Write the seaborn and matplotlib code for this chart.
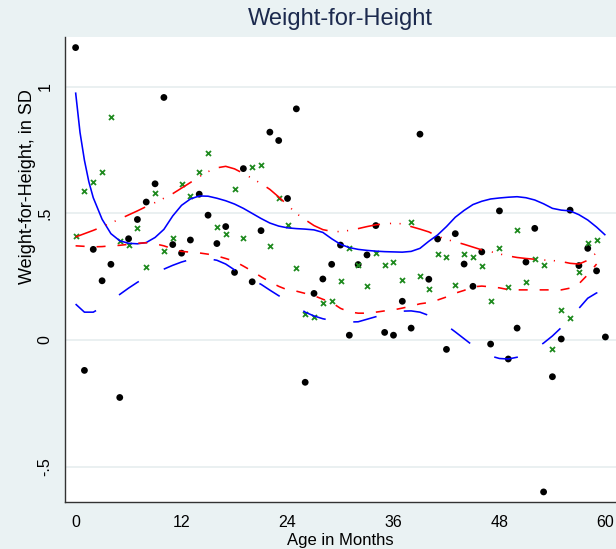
import matplotlib
matplotlib.use("Agg")
import matplotlib.pyplot as plt
from matplotlib import font_manager
import pandas as pd
import seaborn as sns

# ---- observed means by age (months) ----
months_a = list(range(61))
whz_a = [1.155, -0.120, 0.358, 0.234, 0.299, -0.227, 0.400, 0.476, 0.545, 0.617,
         0.958, 0.377, 0.343, 0.395, 0.576, 0.493, 0.381, 0.448, 0.267, 0.677,
         0.230, 0.432, 0.821, 0.788, 0.559, 0.913, -0.167, 0.184, 0.241, 0.299,
         0.375, 0.019, 0.298, 0.336, 0.452, 0.030, 0.019, 0.153, 0.047, 0.813,
         0.240, 0.399, -0.037, 0.420, 0.300, 0.212, 0.348, -0.016, 0.510, -0.075,
         0.047, 0.308, 0.441, -0.600, -0.145, 0.004, 0.513, 0.294, 0.362, 0.273,
         0.012]

months_b = list(range(60))
whz_b = [0.410, 0.588, 0.624, 0.663, 0.880, 0.392, 0.375, 0.444, 0.290, 0.581,
         0.350, 0.404, 0.615, 0.568, 0.664, 0.740, 0.445, 0.418, 0.597, 0.403,
         0.685, 0.690, 0.372, 0.559, 0.456, 0.283, 0.101, 0.092, 0.147, 0.153,
         0.232, 0.362, 0.295, 0.215, 0.343, 0.295, 0.307, 0.238, 0.466, 0.253,
         0.203, 0.339, 0.329, 0.216, 0.341, 0.327, 0.294, 0.153, 0.365, 0.211,
         0.436, 0.230, 0.319, 0.296, -0.037, 0.117, 0.087, 0.269, 0.385, 0.394]

# ---- smoothed confidence bounds ----
band_a_months = [0, 0.5, 1, 1.5, 2] + list(range(3, 61))
band_a_upper = [0.978, 0.820, 0.710, 0.625, 0.562, 0.477, 0.420, 0.392, 0.382, 0.380,
                0.385, 0.405, 0.437, 0.490, 0.532, 0.557, 0.569, 0.568, 0.560, 0.550,
                0.537, 0.520, 0.500, 0.480, 0.462, 0.450, 0.443, 0.440, 0.438, 0.435,
                0.425, 0.400, 0.378, 0.365, 0.358, 0.354, 0.351, 0.349, 0.348, 0.347,
                0.350, 0.362, 0.390, 0.415, 0.448, 0.485, 0.512, 0.535, 0.548, 0.557,
                0.561, 0.564, 0.566, 0.562, 0.553, 0.538, 0.520, 0.513, 0.510, 0.495,
                0.474, 0.446, 0.414]

band_a_lower_months = list(range(61))
band_a_lower = [0.142, 0.110, 0.110, 0.130, 0.155, 0.180, 0.205, 0.228, 0.248, 0.265,
                0.280, 0.295, 0.308, 0.318, 0.322, 0.321, 0.315, 0.300, 0.277, 0.257,
                0.237, 0.220, 0.197, 0.175, 0.155, 0.135, 0.110, 0.095, 0.084, 0.077,
                0.073, 0.071, 0.072, 0.082, 0.092, 0.100, 0.108, 0.114, 0.115, 0.110,
                0.097, 0.080, 0.058, 0.032, 0.005, -0.022, -0.045, -0.063, -0.073, -0.075,
                -0.068, -0.055, -0.035, -0.012, 0.016, 0.049, 0.090, 0.125, 0.165, 0.186,
                0.188]

band_b_months = list(range(60))
band_b_upper = [0.407, 0.420, 0.433, 0.447, 0.462, 0.478, 0.494, 0.510, 0.527, 0.543,
                0.560, 0.578, 0.600, 0.622, 0.645, 0.665, 0.680, 0.686, 0.676, 0.658,
                0.638, 0.618, 0.595, 0.565, 0.533, 0.500, 0.475, 0.452, 0.436, 0.429,
                0.428, 0.433, 0.440, 0.448, 0.455, 0.459, 0.461, 0.459, 0.448, 0.438,
                0.427, 0.410, 0.397, 0.388, 0.378, 0.367, 0.356, 0.349, 0.340, 0.332,
                0.326, 0.322, 0.319, 0.316, 0.314, 0.310, 0.303, 0.300, 0.315, 0.345]
band_b_lower = [0.372, 0.370, 0.368, 0.369, 0.372, 0.374, 0.378, 0.382, 0.384, 0.380,
                0.372, 0.360, 0.350, 0.347, 0.344, 0.339, 0.332, 0.322, 0.311, 0.292,
                0.272, 0.250, 0.230, 0.212, 0.198, 0.193, 0.184, 0.175, 0.161, 0.148,
                0.125, 0.111, 0.106, 0.106, 0.110, 0.115, 0.119, 0.126, 0.134, 0.143,
                0.148, 0.158, 0.170, 0.185, 0.196, 0.210, 0.213, 0.210, 0.206, 0.199,
                0.198, 0.198, 0.198, 0.198, 0.198, 0.198, 0.205, 0.222, 0.258, 0.300]

x_ticks = [0, 12, 24, 36, 48, 60]
y_ticks = [-0.5, 0, 0.5, 1]
y_tick_labels = ["-.5", "0", ".5", "1"]

# ---- style ----
bg = "#eaf2f3"
sns.set_style("white")
installed = {f.name for f in font_manager.fontManager.ttflist}
family = "Liberation Sans" if "Liberation Sans" in installed else "DejaVu Sans"
plt.rcParams["font.family"] = [family, "DejaVu Sans"]
plt.rcParams["lines.scale_dashes"] = False

fig, ax = plt.subplots(figsize=(6.16, 5.49), dpi=100)
fig.patch.set_facecolor(bg)
ax.set_facecolor("white")
fig.subplots_adjust(left=65 / 616, right=1.0, bottom=46.7 / 549, top=1 - 36.7 / 549)

ax.set_xlim(-1.2, 61.2)
ax.set_ylim(-0.641, 1.198)

for yv in y_ticks:
    ax.axhline(yv, color="#e4ecee", lw=1.1, zorder=0)

df_a = pd.DataFrame({"month": months_a, "whz": whz_a})
df_b = pd.DataFrame({"month": months_b, "whz": whz_b})

sns.scatterplot(data=df_a, x="month", y="whz", color="black", marker="o",
                s=24, edgecolor="none", ax=ax, zorder=3)
sns.scatterplot(data=df_b, x="month", y="whz", color="#1f8a1f", marker="x",
                s=13, linewidth=1.3, ax=ax, zorder=3)

def band(xs, ys, color, dashes=None):
    sns.lineplot(x=xs, y=ys, color=color, lw=1.15, sort=False, estimator=None,
                 ax=ax, zorder=4)
    line = ax.lines[-1]
    if dashes is not None:
        line.set_dashes(dashes)
    line.set_solid_capstyle("butt")
    line.set_dash_capstyle("butt")

band(band_a_months, band_a_upper, "#0000ff")
band(band_a_lower_months, band_a_lower, "#0000ff", (17.3, 20.0))
band(band_b_months, band_b_upper, "#ff0000", (16.2, 7.2, 0.8, 6.1, 0.8, 7.2))
band(band_b_months, band_b_lower, "#ff0000", (6.5, 8.6))

ax.set_xticks(x_ticks)
ax.set_xticklabels([str(t) for t in x_ticks])
ax.set_yticks(y_ticks)
ax.set_yticklabels(y_tick_labels, rotation=90, va="center")
ax.tick_params(axis="both", direction="out", length=6, width=1, color="#333333",
               labelsize=11.5, labelcolor="black", pad=3)

for side in ("top", "right"):
    ax.spines[side].set_visible(False)
for side in ("left", "bottom"):
    ax.spines[side].set_color("#333333")
    ax.spines[side].set_linewidth(1.0)

ax.set_xlabel("Age in Months", fontsize=12, color="black", va="center")
ax.xaxis.set_label_coords(0.5, (502.3 - 540) / 465.6)
ax.set_ylabel("Weight-for-Height, in SD", fontsize=13, color="black",
              va="center", ha="center")
ax.yaxis.set_label_coords((28 - 65) / 551, (502.3 - 187) / 465.6)

ax.set_title("Weight-for-Height", fontsize=17, color="#1c2a4e", va="center",
             y=1 + (36.7 - 19) / 465.6, pad=0)

fig.savefig("out.png", dpi=100, facecolor=bg)
